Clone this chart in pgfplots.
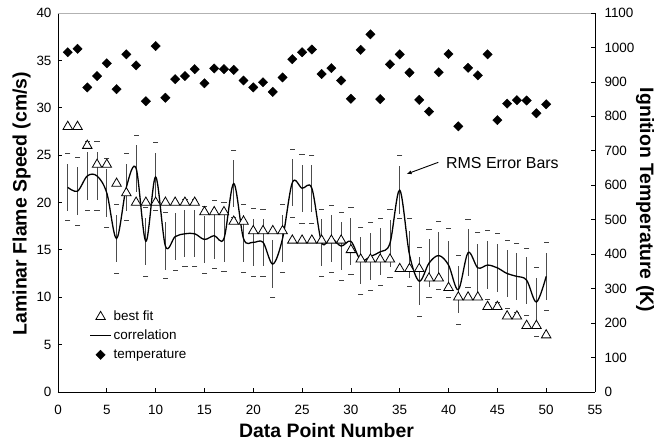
\documentclass[border=0pt]{standalone}
\usepackage{fontspec}
\setmainfont{Liberation Sans}
\usepackage{pgfplots}
\usepackage{pgfplotstable}
\pgfplotsset{compat=1.18}
\usetikzlibrary{arrows.meta}

% x, best fit, correlation, RMS error, lower/upper dash, ignition temperature
\pgfplotstableread{
x  best corr err lo   hi   temp
1  28   21.6 2.5 18.1 25.2 986
2  28   21.2 2.5 17.6 24.8 996
3  26   22.8 2.5 19.2 26.4 884
4  24   22.8 2.5 19.2 26.4 917
5  24   21.0 2.5 17.4 24.6 954
6  22   16.2 2.5 12.5 19.8 879
7  21   21.6 2.5 18.1 25.2 980
8  20   23.6 2.5 20.0 27.1 948
9  20   15.9 2.5 12.2 19.5 844
10 20   22.7 2.5 19.2 26.3 1004
11 20   15.4 2.5 12.0 19.0 854
12 20   16.4 2.5 12.8 20.0 908
13 20   16.7 2.5 13.2 20.3 917
14 20   16.7 2.5 13.2 20.3 937
15 19   16.1 2.5 12.5 19.6 896
16 19   16.5 2.5 13.0 20.2 939
17 19   16.2 2.5 12.7 20.0 937
18 18   22.0 2.5 18.4 25.5 935
19 18   16.2 2.5 12.6 19.8 904
20 17   15.8 2.5 12.2 19.4 884
21 17   15.8 2.5 12.2 19.3 899
22 17   13.5 2.5 10.0 17.1 871
23 17   16.2 2.5 12.6 19.8 913
24 16   22.1 2.5 18.4 25.6 966
25 16   21.5 2.5 17.8 25.1 986
26 16   21.5 2.5 17.8 25.0 994
27 16   15.8 2.5 12.2 19.3 923
28 16   16.2 2.5 12.6 19.7 940
29 16   15.4 2.5 11.8 19.0 904
30 15   15.9 2.5 12.4 19.5 851
31 14   13.9 2.5 10.3 17.4 993
32 14   14.3 2.5 10.7 17.9 1038
33 14   14.8 2.5 11.2 18.3 850
34 14   15.7 2.5 12.1 19.3 951
35 13   21.3 2.5 18.3 25.0 980
36 13   14.5 2.5 11.1 18.3 927
37 13   11.7 2.5 8.0  15.3 848
38 12   13.6 2.5 10.0 17.2 814
39 12   14.4 2.5 10.8 18.0 928
40 11   13.4 2.5 10.0 17.3 981
41 10   10.8 2.5 7.1  14.4 771
42 10   14.7 2.5 11.0 18.2 941
43 10   13.1 2.5 9.9  16.8 919
44 9    13.4 2.5 9.8  17.1 980
45 9    13.1 2.5 9.4  16.7 789
46 8    12.5 2.5 8.8  16.0 837
47 8    12.2 2.5 8.4  15.7 847
48 7    11.8 2.5 8.1  15.2 846
49 7    9.5  2.5 5.9  13.1 809
50 6    12.2 2.5 8.6  15.8 835
}\flame

\pgfplotsset{
  every axis/.append style={
    scale only axis, width=537bp, height=379bp,
    at={(0,0)}, anchor=south west,
    xmin=0, xmax=55,
    tick align=inside, major tick length=4bp,
    axis line style={black, line width=0.9bp},
    tick style={black, line width=0.8bp},
    tick label style={font=\fontsize{13.5}{16}\selectfont},
    /pgf/number format/assume math mode=true,
    /pgf/number format/1000 sep={},
  },
}

\begin{document}
\begin{tikzpicture}
\begin{axis}[
  ymin=0, ymax=40,
  axis x line*=bottom, axis y line*=left,
  xtick={0,5,...,55}, ytick={0,5,...,40},
  xticklabel style={yshift=-10bp},
  yticklabel style={xshift=-3bp},
  legend cell align=left,
  legend image code/.code={\draw[mark repeat=2,mark phase=2,#1] plot coordinates {(0bp,0bp)(10.5bp,0bp)(21bp,0bp)};},
  legend style={at={(axis cs:3.2,8.8)}, anchor=north west, draw=none, fill=none,
    inner sep=0pt, row sep=3bp, font=\fontsize{13.5}{16}\selectfont,
    nodes={inner sep=2bp, text height=9.5bp, text depth=2.5bp}},
]
\draw[gray!60, line width=0.9bp] (rel axis cs:0,1) -- (rel axis cs:1,1);
\addplot[forget plot, only marks, mark=-, mark size=2.6bp, black!75, line width=0.9bp]
  table[x=x, y=lo]{\flame};
\addplot[forget plot, only marks, mark=-, mark size=2.6bp, black!75, line width=0.9bp]
  table[x=x, y=hi]{\flame};
\addplot[only marks, mark=triangle*, mark size=5.5bp,
  mark options={fill=white, draw=black, line width=0.8bp}]
  table[x=x, y=best]{\flame};
\addlegendentry{best fit}
\addplot[forget plot, draw=none, mark=none,
  error bars/.cd, y dir=both, y explicit, error mark=none,
  error bar style={draw=black!70, line width=0.9bp}]
  table[x=x, y=corr, y error=err]{\flame};
\addplot[black, line width=1.3bp, smooth, tension=0.55, mark=none]
  table[x=x, y=corr]{\flame};
\addlegendentry{correlation}
\addlegendimage{only marks, mark=square*, mark size=3.3bp, mark options={rotate=45}, black}
\addlegendentry{temperature}
\node[anchor=base west, font=\fontsize{16}{19}\selectfont] at (axis cs:39.4,23.6) {RMS Error Bars};
\draw[black, line width=0.9bp, -{Latex[length=5bp,width=4bp]}] (axis cs:38.95,24.24) -- (axis cs:35.7,23.0);
\end{axis}

\begin{axis}[
  ymin=0, ymax=1100,
  axis y line*=right, axis x line=none,
  ytick={0,100,...,1100},
  yticklabel style={xshift=6bp},
]
\addplot[only marks, mark=square*, mark size=3.3bp, mark options={rotate=45}, black]
  table[x=x, y=temp]{\flame};
\end{axis}

\node[anchor=base, font=\bfseries\fontsize{19.5}{22}\selectfont] at (268.5bp,-45bp) {Data Point Number};
\node[anchor=base, rotate=90, font=\bfseries\fontsize{19.5}{22}\selectfont] at (-31.3bp,188.5bp) {Laminar Flame Speed (cm/s)};
\node[anchor=base, rotate=-90, font=\bfseries\fontsize{19.5}{22}\selectfont] at (582bp,192bp) {Ignition Temperature (K)};

\pgfresetboundingbox
\path[use as bounding box] (-58bp,-51bp) rectangle (596bp,392bp);
\end{tikzpicture}
\end{document}
